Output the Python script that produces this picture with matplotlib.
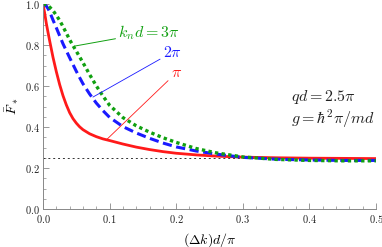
import matplotlib
matplotlib.use("Agg")
import matplotlib.pyplot as plt
from matplotlib.ticker import MultipleLocator

plt.rcParams["mathtext.fontset"] = "cm"
plt.rcParams["font.family"] = "serif"
plt.rcParams["font.serif"] = ["cmr10", "DejaVu Serif"]
plt.rcParams["axes.formatter.use_mathtext"] = True

x = [0, 0.0025, 0.005, 0.0075, 0.01, 0.015, 0.02, 0.025, 0.03, 0.035, 0.04,
     0.045, 0.05, 0.055, 0.06, 0.07, 0.08, 0.09, 0.10, 0.12, 0.14, 0.16,
     0.18, 0.20, 0.23, 0.26, 0.30, 0.35, 0.40, 0.45, 0.50]
f_pi = [1.0, 0.955, 0.905, 0.862, 0.82, 0.74, 0.67, 0.607, 0.553, 0.508, 0.47,
        0.441, 0.419, 0.401, 0.387, 0.367, 0.353, 0.342, 0.334, 0.317, 0.302,
        0.290, 0.280, 0.272, 0.264, 0.258, 0.253, 0.250, 0.248, 0.247, 0.246]
f_2pi = [1.0, 0.997, 0.99, 0.978, 0.962, 0.922, 0.884, 0.845, 0.806, 0.772,
         0.738, 0.705, 0.672, 0.641, 0.611, 0.561, 0.517, 0.48, 0.447, 0.402,
         0.371, 0.345, 0.322, 0.303, 0.283, 0.268, 0.252, 0.243, 0.239, 0.237,
         0.237]
f_3pi = [1.0, 0.999, 0.997, 0.992, 0.985, 0.968, 0.945, 0.92, 0.89, 0.858,
         0.826, 0.797, 0.77, 0.742, 0.714, 0.656, 0.601, 0.551, 0.506, 0.446,
         0.406, 0.375, 0.348, 0.325, 0.295, 0.274, 0.254, 0.242, 0.237, 0.235,
         0.235]
limit = 0.25

red = "#ff1a1a"
blue = "#1a1aff"
green = "#10a010"

fig = plt.figure(figsize=(3.82, 2.47), dpi=100)
ax = fig.add_axes([0.1126, 0.1538, 0.8714, 0.83])

ax.axhline(limit, color="#333333", lw=0.7, ls=(0, (2, 3)))
ax.plot(x, f_pi, color=red, lw=2.0)
ax.plot(x, f_2pi, color=blue, lw=2.2, ls=(0, (3, 1.5)))
ax.plot(x, f_3pi, color=green, lw=2.4, ls=(0, (1, 1)))

ax.set_xlim(0, 0.5)
ax.set_ylim(0, 1.0)
ax.xaxis.set_major_locator(MultipleLocator(0.1))
ax.xaxis.set_minor_locator(MultipleLocator(0.02))
ax.yaxis.set_major_locator(MultipleLocator(0.2))
ax.yaxis.set_minor_locator(MultipleLocator(0.05))
ax.tick_params(which="both", direction="in", color="#888888", labelsize=7.5,
               labelcolor="#222222")
ax.tick_params(axis="x", pad=3)
ax.tick_params(axis="y", pad=2)
ax.tick_params(which="major", length=4, width=0.6)
ax.tick_params(which="minor", length=2.2, width=0.5)
for side in ("top", "right"):
    ax.spines[side].set_visible(False)
for side in ("left", "bottom"):
    ax.spines[side].set_color("#888888")
    ax.spines[side].set_linewidth(0.7)

ax.set_xlabel(r"$(\Delta k)d/\pi$", fontsize=10, labelpad=4)
ax.set_ylabel(r"$\bar{F}_*$", fontsize=10, labelpad=3)

# labels with leader lines
ax.annotate(r"$k_nd=3\pi$", xy=(0.048, 0.795), xytext=(0.113, 0.86),
            color=green, fontsize=11.5, va="center", ha="left",
            arrowprops=dict(arrowstyle="-", color=green, lw=0.7,
                            shrinkA=0, shrinkB=0))
ax.annotate(r"$2\pi$", xy=(0.075, 0.546), xytext=(0.180, 0.765),
            color=blue, fontsize=11.5, va="center", ha="left",
            arrowprops=dict(arrowstyle="-", color=blue, lw=0.6,
                            shrinkA=0, shrinkB=0))
ax.annotate(r"$\pi$", xy=(0.096, 0.34), xytext=(0.192, 0.665),
            color=red, fontsize=11.5, va="center", ha="left",
            arrowprops=dict(arrowstyle="-", color=red, lw=0.6,
                            shrinkA=0, shrinkB=0))

ax.text(0.373, 0.545, r"$qd=2.5\pi$", fontsize=11.5, color="#222222",
        va="center", ha="left")
ax.text(0.373, 0.44, r"$g=\hbar^2\pi/md$", fontsize=11.5, color="#222222",
        va="center", ha="left")

fig.savefig("out.png", dpi=100)
